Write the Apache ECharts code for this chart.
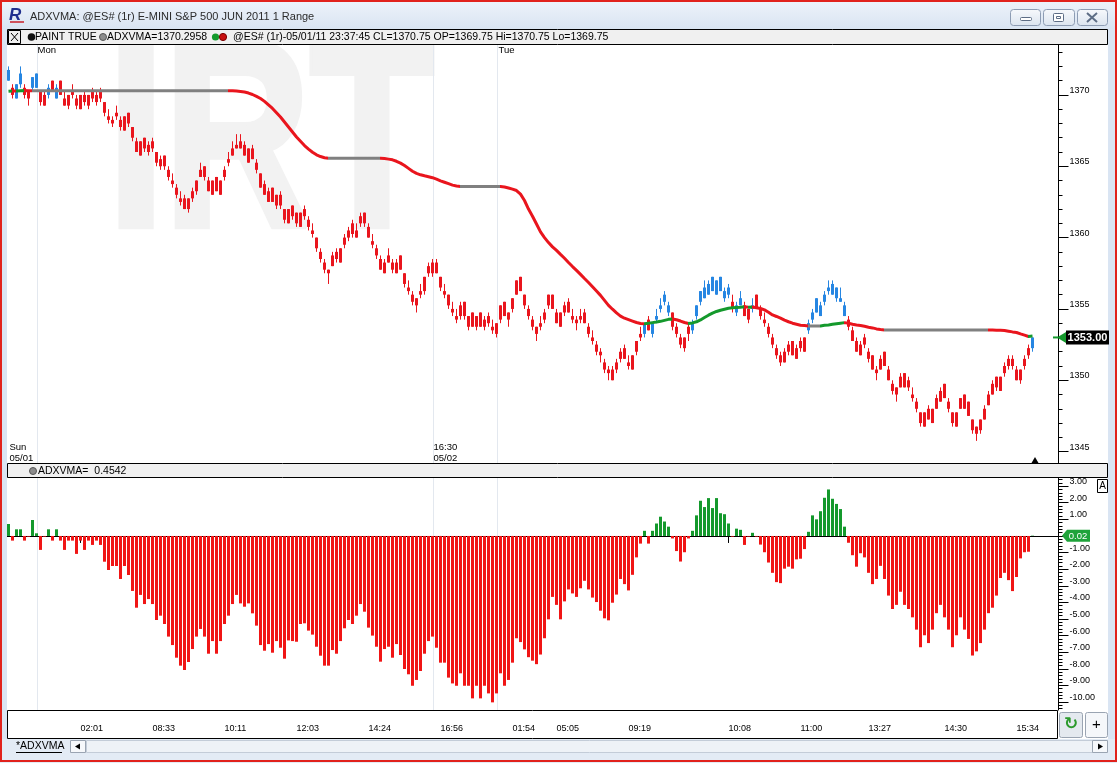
<!DOCTYPE html>
<html><head><meta charset="utf-8">
<script src="https://cdn.jsdelivr.net/npm/echarts@6/dist/echarts.min.js"></script>
<style>html,body{margin:0;padding:0;background:#fff}#c{width:1117px;height:763px}</style>
</head><body><div id="c"></div>
<script>
// ---------------- DATA ----------------
// Range bars: [open, close, low, high]
const ohlc = [
[1371.0,1371.75,1371.0,1372.0],[1370.5,1370.0,1369.75,1370.75],[1369.75,1370.75,1369.75,1370.75],[1370.75,1371.5,1370.5,1372.0],
[1370.5,1370.0,1369.75,1370.75],[1370.25,1369.75,1369.25,1370.25],[1370.5,1371.25,1370.25,1371.25],[1370.5,1371.5,1370.5,1371.5],
[1370.25,1369.5,1369.25,1370.25],[1370.0,1369.25,1369.25,1370.25],[1370.0,1370.5,1369.75,1370.75],[1371.0,1370.25,1370.25,1371.0],
[1369.75,1370.5,1369.75,1370.75],[1371.0,1370.0,1370.0,1371.0],[1369.75,1369.25,1369.25,1370.25],[1370.0,1369.25,1369.0,1370.0],
[1370.25,1370.0,1369.75,1370.75],[1369.75,1369.25,1369.0,1370.0],[1370.0,1369.0,1369.0,1370.0],[1370.0,1369.5,1369.25,1370.25],
[1370.0,1369.25,1369.0,1370.0],[1370.25,1369.75,1369.5,1370.5],[1370.0,1369.5,1369.25,1370.25],[1370.25,1369.75,1369.5,1370.5],
[1369.5,1368.75,1368.5,1369.5],[1368.5,1368.25,1368.0,1369.0],[1368.25,1368.0,1367.75,1368.5],[1368.75,1368.5,1368.25,1369.25],
[1368.25,1367.75,1367.5,1368.5],[1368.5,1367.5,1367.5,1368.5],[1368.75,1368.0,1367.75,1368.75],[1367.75,1367.0,1366.75,1367.75],
[1366.75,1366.0,1366.0,1367.0],[1366.75,1365.75,1365.75,1366.75],[1367.0,1366.25,1366.0,1367.0],[1366.5,1366.0,1365.75,1366.75],
[1366.75,1366.25,1366.0,1367.0],[1366.0,1365.25,1365.0,1366.0],[1365.5,1365.0,1364.75,1365.75],[1365.75,1365.0,1364.75,1365.75],
[1364.75,1364.25,1364.0,1365.0],[1364.0,1363.75,1363.5,1364.5],[1363.5,1363.0,1362.75,1363.75],[1362.75,1362.5,1362.25,1363.25],
[1362.75,1362.0,1362.0,1363.0],[1362.75,1362.0,1361.75,1362.75],[1363.25,1362.75,1362.5,1363.5],[1363.25,1364.0,1363.0,1364.0],
[1364.25,1364.75,1364.25,1365.25],[1364.25,1365.0,1364.0,1365.0],[1364.0,1363.25,1363.25,1364.25],[1364.0,1363.0,1363.0,1364.0],
[1363.25,1364.25,1363.25,1364.25],[1364.0,1363.0,1363.0,1364.0],[1364.25,1364.75,1364.0,1365.0],[1365.25,1365.5,1365.0,1366.0],
[1365.75,1366.25,1365.75,1366.75],[1366.25,1366.5,1366.25,1367.25],[1366.25,1366.75,1366.25,1367.25],[1366.5,1365.75,1365.75,1366.75],
[1366.25,1365.25,1365.25,1366.25],[1365.5,1366.25,1365.5,1366.5],[1365.25,1364.75,1364.5,1365.5],[1364.5,1363.5,1363.5,1364.5],
[1363.75,1363.0,1363.0,1364.0],[1363.25,1362.5,1362.5,1363.5],[1362.5,1363.5,1362.5,1363.5],[1363.0,1362.25,1362.0,1363.0],
[1362.25,1363.0,1362.0,1363.25],[1362.0,1361.25,1361.0,1362.0],[1362.0,1361.0,1361.0,1362.0],[1361.5,1362.25,1361.25,1362.25],
[1361.75,1361.0,1360.75,1361.75],[1360.75,1361.75,1360.75,1361.75],[1362.0,1361.5,1361.25,1362.25],[1361.25,1360.75,1360.5,1361.5],
[1360.5,1360.25,1360.0,1361.0],[1360.0,1359.25,1359.0,1360.0],[1359.0,1358.5,1358.25,1359.25],[1358.25,1357.75,1357.5,1358.5],
[1357.75,1357.5,1356.75,1357.75],[1358.0,1358.75,1358.0,1359.0],[1358.5,1359.0,1358.25,1359.25],[1358.25,1359.25,1358.25,1359.25],
[1359.5,1360.0,1359.25,1360.25],[1360.0,1360.5,1359.75,1360.75],[1360.25,1361.0,1360.0,1361.25],[1360.5,1360.0,1360.0,1361.0],
[1361.0,1361.5,1360.75,1361.75],[1361.0,1361.75,1360.75,1361.75],[1360.75,1360.0,1360.0,1361.0],[1359.75,1359.5,1359.25,1360.25],
[1359.25,1358.75,1358.5,1359.5],[1358.5,1357.75,1357.75,1358.75],[1358.25,1357.5,1357.5,1358.5],[1358.75,1358.25,1358.25,1359.25],
[1358.25,1357.75,1357.5,1358.5],[1357.5,1358.25,1357.5,1358.5],[1357.75,1358.75,1357.75,1358.75],[1357.5,1356.75,1356.5,1357.5],
[1356.5,1356.25,1356.0,1357.0],[1356.0,1355.5,1355.25,1356.25],[1355.75,1355.25,1354.75,1355.75],[1356.0,1356.25,1355.75,1356.75],
[1356.25,1357.25,1356.0,1357.25],[1357.5,1358.0,1357.25,1358.25],[1357.5,1358.25,1357.25,1358.5],[1357.5,1358.25,1357.5,1358.5],
[1357.25,1356.5,1356.25,1357.25],[1356.25,1356.0,1355.75,1356.75],[1356.0,1355.25,1355.0,1356.0],[1355.0,1354.75,1354.5,1355.5],
[1354.5,1354.25,1354.0,1355.0],[1354.5,1355.25,1354.25,1355.5],[1354.5,1355.5,1354.25,1355.5],[1354.5,1353.75,1353.5,1354.5],
[1353.75,1354.75,1353.75,1354.75],[1354.5,1353.75,1353.5,1354.5],[1353.75,1354.75,1353.75,1354.75],[1354.25,1353.75,1353.5,1354.5],
[1354.0,1354.5,1353.75,1354.75],[1353.75,1353.5,1353.25,1354.25],[1354.0,1353.25,1353.0,1354.0],[1354.25,1355.25,1354.0,1355.25],
[1354.5,1355.5,1354.5,1355.5],[1354.75,1354.25,1353.75,1354.75],[1355.0,1355.75,1354.75,1355.75],[1356.0,1357.0,1356.0,1357.0],
[1356.25,1357.25,1356.25,1357.25],[1356.0,1355.25,1355.0,1356.0],[1355.0,1354.5,1354.25,1355.25],[1354.25,1353.75,1353.5,1354.5],
[1353.75,1353.25,1352.75,1353.75],[1353.75,1354.0,1353.5,1354.5],[1354.25,1354.75,1354.0,1355.0],[1355.25,1356.0,1355.0,1356.0],
[1355.0,1356.0,1355.0,1356.0],[1354.75,1354.0,1354.0,1355.0],[1354.75,1353.75,1353.75,1354.75],[1354.75,1355.25,1354.5,1355.5],
[1354.75,1355.5,1354.75,1355.75],[1354.5,1354.25,1354.0,1355.0],[1354.25,1354.0,1353.5,1354.5],[1354.25,1354.5,1354.0,1355.0],
[1354.75,1354.0,1354.0,1355.0],[1353.75,1353.25,1353.0,1354.0],[1353.0,1352.75,1352.5,1353.5],[1352.5,1352.0,1351.75,1352.75],
[1352.0,1351.75,1351.25,1352.25],[1351.25,1350.75,1350.5,1351.5],[1350.75,1350.5,1350.0,1351.0],[1350.75,1350.0,1350.0,1351.0],
[1350.75,1351.25,1350.5,1351.5],[1351.5,1352.0,1351.25,1352.25],[1351.5,1352.25,1351.5,1352.5],[1351.25,1351.0,1350.75,1351.75],
[1350.75,1351.75,1350.75,1351.75],[1352.0,1352.75,1351.75,1352.75],[1353.0,1353.25,1352.75,1353.75],[1353.25,1354.0,1353.0,1354.0],
[1354.25,1353.5,1353.5,1354.5],[1353.25,1354.0,1353.0,1354.0],[1354.25,1354.5,1354.0,1355.0],[1355.0,1355.25,1354.75,1355.75],
[1355.5,1356.0,1355.25,1356.25],[1355.25,1354.75,1354.5,1355.5],[1354.75,1353.75,1353.5,1354.75],[1353.75,1353.25,1353.0,1354.0],
[1353.0,1352.5,1352.25,1353.25],[1353.0,1352.25,1352.0,1353.0],[1353.25,1353.75,1352.75,1354.0],[1353.5,1354.0,1353.25,1354.25],
[1354.5,1355.25,1354.25,1355.25],[1355.5,1356.25,1355.25,1356.25],[1355.75,1356.5,1355.75,1357.0],[1356.0,1356.75,1356.0,1357.0],
[1356.25,1357.25,1356.25,1357.25],[1357.0,1356.0,1356.0,1357.0],[1356.25,1357.25,1356.25,1357.25],[1356.25,1355.75,1355.5,1356.5],
[1356.0,1356.5,1355.75,1356.75],[1355.5,1355.0,1354.75,1356.0],[1355.25,1354.75,1354.5,1355.5],[1355.25,1355.75,1355.25,1356.25],
[1355.25,1354.5,1354.5,1355.5],[1355.0,1354.25,1354.0,1355.0],[1355.0,1355.25,1354.75,1355.75],[1356.0,1355.0,1355.0,1356.0],
[1355.0,1354.5,1354.25,1355.25],[1354.25,1354.0,1353.75,1354.75],[1353.75,1353.25,1353.0,1354.0],[1353.0,1352.5,1352.25,1353.25],
[1352.25,1351.75,1351.5,1352.5],[1351.75,1351.25,1351.0,1352.0],[1351.25,1352.0,1351.25,1352.25],[1352.5,1352.0,1351.75,1352.75],
[1351.75,1352.75,1351.75,1352.75],[1352.25,1351.5,1351.5,1352.5],[1352.25,1352.75,1352.0,1353.0],[1352.0,1353.0,1352.0,1353.0],
[1353.5,1354.0,1353.25,1354.25],[1354.25,1354.75,1354.0,1355.0],[1354.75,1355.75,1354.75,1355.75],[1355.25,1354.5,1354.5,1355.5],
[1355.5,1356.0,1355.25,1356.25],[1356.25,1356.5,1356.0,1357.0],[1356.0,1356.75,1356.0,1357.0],[1356.5,1355.75,1355.5,1356.5],
[1355.75,1355.5,1355.5,1356.5],[1355.25,1354.5,1354.5,1355.5],[1354.25,1353.75,1353.5,1354.5],[1353.5,1352.75,1352.75,1353.75],
[1352.75,1352.0,1352.0,1353.0],[1351.75,1352.5,1351.75,1352.75],[1353.0,1352.5,1352.25,1353.25],[1352.0,1351.5,1351.25,1352.25],
[1351.75,1350.75,1350.75,1351.75],[1350.75,1350.5,1350.0,1351.0],[1350.75,1351.5,1350.75,1351.75],[1351.0,1352.0,1351.0,1352.0],
[1350.75,1350.0,1350.0,1351.0],[1349.75,1349.25,1349.0,1350.0],[1349.5,1349.0,1348.5,1349.5],[1349.5,1350.25,1349.5,1350.5],
[1349.5,1350.5,1349.5,1350.5],[1350.0,1349.5,1349.25,1350.25],[1349.0,1348.75,1348.5,1349.5],[1348.5,1348.0,1347.75,1348.75],
[1347.75,1347.0,1346.75,1347.75],[1347.75,1346.75,1346.75,1347.75],[1347.25,1348.0,1347.25,1348.25],[1348.0,1347.0,1347.0,1348.0],
[1348.0,1348.75,1348.0,1349.0],[1348.5,1349.25,1348.5,1349.5],[1348.75,1349.75,1348.75,1349.75],[1348.5,1348.0,1347.75,1348.75],
[1347.75,1347.0,1346.75,1347.75],[1347.75,1346.75,1346.75,1347.75],[1348.0,1348.75,1348.0,1348.75],[1348.0,1349.0,1348.0,1349.0],
[1348.5,1347.5,1347.5,1348.5],[1347.25,1346.5,1346.25,1347.25],[1346.75,1346.25,1345.75,1346.75],[1346.5,1347.25,1346.25,1347.25],
[1347.25,1348.0,1347.25,1348.25],[1348.25,1349.0,1348.25,1349.25],[1349.0,1349.75,1349.0,1350.0],[1350.25,1349.5,1349.25,1350.25],
[1349.25,1350.25,1349.25,1350.25],[1350.5,1351.0,1350.25,1351.25],[1351.0,1351.5,1350.75,1351.75],[1351.5,1351.0,1350.75,1351.75],
[1350.75,1350.0,1350.0,1351.0],[1350.0,1350.75,1349.75,1350.75],[1351.0,1351.5,1350.75,1351.75],[1351.75,1352.25,1351.5,1352.5],
[1352.25,1353.0,1352.0,1353.0]
];

// ADXVMA moving-average values, one per bar
const adxvma = [
1370.26,1370.28,1370.27,1370.29,1370.31,1370.30,
1370.2958,1370.2958,1370.2958,1370.2958,1370.2958,1370.2958,1370.2958,1370.2958,1370.2958,1370.2958,
1370.2958,1370.2958,1370.2958,1370.2958,1370.2958,1370.2958,1370.2958,1370.2958,1370.2958,1370.2958,
1370.2958,1370.2958,1370.2958,1370.2958,1370.2958,1370.2958,1370.2958,1370.2958,1370.2958,1370.2958,
1370.2958,1370.2958,1370.2958,1370.2958,1370.2958,1370.2958,1370.2958,1370.2958,1370.2958,1370.2958,
1370.2958,1370.2958,1370.2958,1370.2958,1370.2958,1370.2958,1370.2958,1370.2958,1370.2958,1370.2958,
1370.29,1370.27,1370.24,1370.2,1370.13,1370.03,1369.9,1369.75,1369.55,1369.3,1369.05,1368.75,1368.45,1368.1,
1367.75,1367.4,1367.05,1366.75,1366.45,1366.2,1365.98,1365.8,1365.68,1365.6,
1365.56,1365.56,1365.56,1365.56,1365.56,1365.56,1365.56,1365.56,1365.56,1365.56,1365.56,1365.56,1365.56,1365.56,
1365.54,1365.5,1365.45,1365.35,1365.22,1365.05,1364.85,1364.65,1364.5,1364.4,1364.33,1364.27,1364.2,1364.1,
1363.98,1363.88,1363.78,1363.68,1363.62,
1363.58,1363.58,1363.58,1363.58,1363.58,1363.58,1363.58,1363.58,1363.58,1363.58,1363.58,
1363.55,1363.48,1363.4,1363.3,1363.05,1362.6,1362.0,1361.5,1360.95,1360.4,1360.0,1359.65,1359.35,1359.1,
1358.82,1358.55,1358.25,1357.97,1357.7,1357.42,1357.13,1356.85,1356.55,1356.25,1355.95,1355.6,1355.25,1354.98,
1354.72,1354.5,1354.35,1354.25,1354.15,1354.05,1353.98,1353.96,
1354.0,1354.04,1354.08,1354.13,1354.2,1354.27,1354.3,1354.24,1354.15,1354.05,1353.98,
1354.02,1354.1,1354.23,1354.4,1354.56,1354.7,1354.82,1354.91,1354.98,1355.05,1355.08,1355.1,
1355.12,1355.15,1355.12,1355.13,1355.08,1355.03,1354.93,1354.77,1354.58,1354.47,1354.35,1354.21,1354.1,1354.0,
1353.93,1353.86,1353.84,1353.81,1353.81,1353.81,1353.81,1353.85,1353.88,1353.92,1353.96,1354.0,1354.04,
1354.0,1353.93,1353.88,1353.84,1353.79,1353.72,1353.67,1353.6,1353.56,
1353.53,1353.53,1353.53,1353.53,1353.53,1353.53,1353.53,1353.53,1353.53,1353.53,1353.53,1353.53,1353.53,1353.53,
1353.53,1353.53,1353.53,1353.53,1353.53,1353.53,1353.53,1353.53,1353.53,1353.53,1353.53,1353.53,1353.53,
1353.52,1353.51,1353.5,1353.49,1353.44,1353.39,1353.35,1353.25,1353.16,1353.07,1353.1
];

// ADXVMA oscillator histogram, one per bar
const histogram = [
0.72,-0.28,0.4,0.4,-0.28,-0.04,0.96,0.16,-0.84,-0.04,
0.4,-0.28,0.4,-0.28,-0.84,-0.28,-0.28,-1.08,-0.28,-0.84,
-0.28,-0.54,-0.28,-0.54,-1.55,-2.05,-1.81,-1.81,-2.59,-1.81,
-2.35,-3.31,-4.32,-3.55,-4.1,-3.8,-4.1,-5.06,-4.8,-5.3,
-6.06,-6.57,-7.33,-7.81,-8.07,-7.59,-6.81,-6.06,-5.6,-6.06,
-7.09,-6.33,-7.09,-6.33,-5.3,-4.8,-4.1,-3.55,-4.06,-4.26,
-4.06,-4.66,-5.4,-6.57,-6.91,-6.51,-7.03,-6.33,-6.73,-7.39,
-6.29,-6.33,-6.37,-5.3,-5.26,-5.7,-5.94,-6.67,-7.21,-7.81,
-7.81,-6.87,-7.09,-6.33,-5.56,-5.06,-5.3,-4.8,-4.1,-4.56,
-5.52,-6.0,-6.67,-7.57,-6.81,-6.67,-7.33,-6.51,-7.17,-8.01,
-8.33,-9.02,-8.67,-8.13,-7.09,-6.33,-6.06,-6.73,-7.63,-7.63,
-8.53,-8.88,-9.02,-8.27,-9.02,-9.02,-9.78,-9.02,-9.78,-9.02,
-9.48,-10.02,-9.48,-8.27,-9.02,-8.67,-7.63,-6.16,
-6.39,-6.83,-7.3,-7.51,-7.72,-7.14,-6.16,-5.02,-3.67,-4.15,
-5.02,-3.94,-3.22,-3.46,-3.67,-3.15,-2.7,-3.22,-3.71,-3.98,
-4.5,-4.96,-5.08,-4.02,-3.53,-2.59,-2.9,-3.28,-2.34,-1.29,
-0.46,0.31,-0.46,0.31,0.75,1.16,0.87,0.56,-0.15,-0.91,
-1.54,-0.98,-0.15,0.31,1.24,2.12,1.74,2.28,1.68,2.28,
1.37,1.31,0.75,-0.04,0.44,0.37,-0.54,-0.04,0.19,-0.04,
-0.52,-0.98,-1.6,-2.22,-2.78,-2.84,-1.97,-1.85,-1.97,-1.41,
-1.37,-0.79,0.25,1.24,1.0,1.49,2.3,2.8,2.24,1.93,
1.62,0.56,-0.41,-1.16,-1.85,-1.04,-1.29,-2.22,-2.9,-2.59,
-1.8,-2.59,-3.59,-4.4,-4.15,-3.36,-4.15,-4.4,-4.9,-5.64,
-6.7,-5.98,-6.45,-5.64,-4.65,-4.15,-4.9,-5.64,-6.7,-5.98,
-4.9,-5.64,-6.2,-7.2,-6.95,-6.45,-5.64,-4.65,-4.32,-3.59,
-2.53,-2.22,-2.66,-3.32,-2.47,-1.35,-0.98,-0.95,0.02
];

// time axis: bar index where each time label sits, and the label
const timeTickIndex = [18,36,54,72,90,108,126,137,155,180,198,215,234,252];
const timeTickLabels = ['02:01','08:33','10:11','12:03','14:24','16:56','01:54','05:05','09:19','10:08','11:00','13:27','14:30','15:34'];
// session separators (bar index)
const sessionIndex = [7, 106, 122];
const priceTicks = [1345,1350,1355,1360,1365,1370];
const oscTicks = [3,2,1,0,-1,-2,-3,-4,-5,-6,-7,-8,-9,-10];
const oscLabels = [3,2,1,-1,-2,-3,-4,-5,-6,-7,-8,-9,-10];
const padSlots = 6;

// ---------------- STYLE ----------------
const RED = '#e9151d', BLUE = '#2686e2', GREEN = '#14992c', GRAY = '#808080';
const HRED = '#f01515';
const UI = '"Liberation Sans", Arial, sans-serif';

const N = ohlc.length;
const cats = [];
for (let i = 0; i < N + padSlots; i++) cats.push(String(i));
const tickSet = new Set(timeTickIndex);
const labelMap = {};
timeTickIndex.forEach((ix, k) => labelMap[ix] = timeTickLabels[k]);

const candleRows = ohlc.map((d, i) => [i, d[0], d[1], d[2], d[3]]);
const histData = histogram.map(v => ({ value: v, itemStyle: { color: v > 0 ? GREEN : HRED } }));

// ADXVMA colour by slope: rising green, falling red, flat gray
const segColor = [];
for (let i = 1; i < N; i++) {
  const d = adxvma[i] - adxvma[i - 1];
  segColor.push(Math.abs(d) < 1e-9 ? GRAY : (d > 0 ? GREEN : RED));
}
const pieces = [];
let s = 0;
for (let k = 1; k <= segColor.length; k++) {
  if (k === segColor.length || segColor[k] !== segColor[s]) {
    if (k === segColor.length) pieces.push({ gte: s, lte: N - 1 + padSlots, color: segColor[s] });
    else pieces.push({ gte: s, lt: k, color: segColor[s] });
    s = k;
  }
}

const minorPrice = [];
for (let v = 1345; v <= 1373; v++) minorPrice.push(v);
const minorOsc = [];
for (let k = -52; k <= 17; k++) minorOsc.push(+(k * 0.2).toFixed(1));

// candle drawn through the axis scales: wick + 3px body, painted by oscillator sign
function renderCandle(params, api) {
  const i = api.value(0);
  const pO = api.coord([i, api.value(1)]);
  const pC = api.coord([i, api.value(2)]);
  const pL = api.coord([i, api.value(3)]);
  const pH = api.coord([i, api.value(4)]);
  const col = histogram[params.dataIndex] > 0 ? BLUE : RED;
  const x = pO[0];
  const top = Math.min(pO[1], pC[1]);
  const h = Math.max(Math.abs(pO[1] - pC[1]), 1.5);
  const xr = Math.floor(x) + 0.5;
  return {
    type: 'group',
    children: [
      { type: 'line', shape: { x1: xr, y1: pH[1], x2: xr, y2: pL[1] }, style: { stroke: col, lineWidth: 1 } },
      { type: 'rect', shape: { x: Math.floor(x) - 1, y: top, width: 3, height: h }, style: { fill: col } }
    ]
  };
}

const GL = 6.5, GW = 4 * (N + padSlots);   // 4 px per bar slot
const chart = echarts.init(document.getElementById('c'), null, { width: 1117, height: 763 });
const option = {
  animation: false,
  backgroundColor: '#ffffff',
  textStyle: { fontFamily: UI },
  grid: [
    { left: GL, top: 45, width: GW, height: 418 },
    { left: GL, top: 478, width: GW, height: 232 }
  ],
  xAxis: [
    { type: 'category', gridIndex: 0, data: cats, boundaryGap: true,
      axisLine: { show: false }, axisTick: { show: false }, axisLabel: { show: false }, splitLine: { show: false } },
    { type: 'category', gridIndex: 1, data: cats, boundaryGap: true,
      axisLine: { show: true, lineStyle: { color: '#000', width: 1 } },
      axisTick: { show: true, alignWithLabel: true, length: 7, interval: (i) => tickSet.has(i), lineStyle: { color: '#000' } },
      axisLabel: { show: true, interval: (i) => tickSet.has(i), formatter: (v, i) => labelMap[i] || '',
        align: 'left', fontSize: 9, color: '#000', margin: 14, fontFamily: UI },
      splitLine: { show: false } }
  ],
  yAxis: [
    { type: 'value', gridIndex: 0, position: 'right', min: 1344.2, max: 1373.5, scale: true,
      axisLine: { show: true, lineStyle: { color: '#000' } },
      axisTick: { show: true, length: 10, customValues: priceTicks, lineStyle: { color: '#000' } },
      axisLabel: { show: true, customValues: priceTicks, fontSize: 9, color: '#000', margin: 11,
        verticalAlign: 'bottom', fontFamily: UI, formatter: v => String(v) },
      splitLine: { show: false } },
    { type: 'value', gridIndex: 0, position: 'right', min: 1344.2, max: 1373.5, scale: true,
      axisLine: { show: false },
      axisTick: { show: true, length: 4, customValues: minorPrice, lineStyle: { color: '#000' } },
      axisLabel: { show: false }, splitLine: { show: false } },
    { type: 'value', gridIndex: 1, position: 'right', min: -10.48, max: 3.49,
      axisLine: { show: true, lineStyle: { color: '#000' } },
      axisTick: { show: true, length: 10, customValues: oscTicks, lineStyle: { color: '#000' } },
      axisLabel: { show: true, customValues: oscLabels, fontSize: 9, color: '#000', margin: 11,
        verticalAlign: 'bottom', fontFamily: UI, formatter: v => v.toFixed(2) },
      splitLine: { show: false } },
    { type: 'value', gridIndex: 1, position: 'right', min: -10.48, max: 3.49,
      axisLine: { show: false },
      axisTick: { show: true, length: 4, customValues: minorOsc, lineStyle: { color: '#000' } },
      axisLabel: { show: false }, splitLine: { show: false } }
  ],
  visualMap: { show: false, type: 'piecewise', seriesIndex: 1, dimension: 0, pieces: pieces },
  series: [
    { type: 'custom', name: 'ES', xAxisIndex: 0, yAxisIndex: 0, data: candleRows,
      renderItem: renderCandle, encode: { x: 0, y: [1, 2, 3, 4] }, z: 3, clip: true },
    { type: 'line', name: 'ADXVMA', xAxisIndex: 0, yAxisIndex: 0, data: adxvma,
      showSymbol: false, symbol: 'none', z: 5, lineStyle: { width: 3 } },
    { type: 'bar', name: 'ADXVMA osc', xAxisIndex: 1, yAxisIndex: 2, data: histData,
      barWidth: 3, z: 3 }
  ]
};
chart.setOption(option);

// ---------------- window chrome & annotations ----------------
const px = i => chart.convertToPixel({ xAxisIndex: 0 }, i);
const py = v => chart.convertToPixel({ yAxisIndex: 0 }, v);
const po = v => chart.convertToPixel({ yAxisIndex: 2 }, v);

function T(x, y, text, o = {}) {
  return { type: 'text', x, y, z: o.z || 40, silent: true,
    style: { text, fill: o.fill || '#000', font: o.font || `${o.size || 11}px ${UI}`,
      textAlign: o.align || 'left', textVerticalAlign: o.va || 'middle' } };
}
function R(x, y, w, h, style, z = 30, r = 0) {
  return { type: 'rect', silent: true, z, shape: { x, y, width: w, height: h, r }, style };
}
function L(x1, y1, x2, y2, stroke = '#000', w = 1, z = 40) {
  return { type: 'line', silent: true, z, shape: { x1, y1, x2, y2 }, style: { stroke, lineWidth: w } };
}
const frameFill = '#dae5f3';
const btnGrad = { type: 'linear', x: 0, y: 0, x2: 0, y2: 1, colorStops: [{ offset: 0, color: '#f7f9fc' }, { offset: 1, color: '#dbe4ef' }] };
const g = [];
// watermark
g.push({ type: 'text', x: 108, y: 152, z: 0, silent: true, scaleX: 0.76,
  style: { text: 'IRT', fill: '#f2f2f2', stroke: '#f2f2f2', lineWidth: 8, font: `bold 266px ${UI}`, textAlign: 'left', textVerticalAlign: 'middle' } });
// session separators (behind the marks)
sessionIndex.forEach(ix => {
  const x = Math.round(px(ix)) + 0.5;
  g.push(L(x, 45, x, 463, '#e3e8ef', 1, 0));
  g.push(L(x, 478, x, 710, '#e3e8ef', 1, 0));
});
// frame
g.push(R(0, 0, 1117, 29, { fill: { type: 'linear', x: 0, y: 0, x2: 0, y2: 1, colorStops: [{ offset: 0, color: '#eef3fa' }, { offset: 1, color: '#d9e4f2' }] } }, 20));
g.push(R(0, 29, 7, 734, { fill: frameFill }, 20));
g.push(R(1108, 29, 9, 734, { fill: frameFill }, 20));
g.push(R(0, 739, 1117, 24, { fill: '#e3ebf5' }, 20));
g.push(R(1, 1, 1115, 760, { fill: 'none', stroke: '#e1221c', lineWidth: 2 }, 60));
// logo + title
g.push(T(9, 15, 'R', { font: `bold italic 17px ${UI}`, fill: '#1f2f8e' }));
g.push(L(10, 22, 24, 22, '#c8202a', 1.5));
g.push(T(30, 17, 'ADXVMA: @ES# (1r) E-MINI S&P 500 JUN 2011 1 Range', { size: 11, fill: '#2b2b2b' }));
// window buttons
[[1010, 30], [1043, 31], [1077, 30]].forEach(([x, w]) => g.push(R(x + 0.5, 9.5, w, 16, { fill: btnGrad, stroke: '#8d9cb3', lineWidth: 1 }, 30, 3)));
g.push(R(1020.5, 17.5, 11, 3, { fill: '#fff', stroke: '#5d6d85', lineWidth: 1 }, 35, 1));
g.push(R(1053.5, 13.5, 10, 8, { fill: '#fff', stroke: '#5d6d85', lineWidth: 1 }, 35, 1));
g.push(R(1056.5, 16.5, 4, 2, { fill: 'none', stroke: '#5d6d85', lineWidth: 1 }, 36));
g.push(L(1087, 13, 1097, 22, '#5d6d85', 2)); g.push(L(1097, 13, 1087, 22, '#5d6d85', 2));
// info bar
g.push(R(7.5, 29.5, 1100, 15, { fill: '#f0f0f0', stroke: '#000', lineWidth: 1 }, 30));
g.push(R(8.5, 30.5, 12, 13, { fill: 'none', stroke: '#000', lineWidth: 1 }, 35));
g.push(L(11, 33, 18, 41, '#000', 1)); g.push(L(18, 33, 11, 41, '#000', 1));
g.push({ type: 'circle', z: 40, silent: true, shape: { cx: 31.5, cy: 37, r: 3.8 }, style: { fill: '#111' } });
g.push(T(35, 37.5, 'PAINT TRUE', { size: 10.5 }));
g.push({ type: 'circle', z: 40, silent: true, shape: { cx: 103, cy: 37, r: 3.5 }, style: { fill: '#8c8c8c', stroke: '#555' } });
g.push(T(107, 37.5, 'ADXVMA=1370.2958', { size: 10.5 }));
g.push({ type: 'circle', z: 40, silent: true, shape: { cx: 215.5, cy: 37, r: 3.6 }, style: { fill: GREEN } });
g.push({ type: 'circle', z: 40, silent: true, shape: { cx: 223, cy: 37, r: 3.6 }, style: { fill: '#c81010', stroke: '#700' } });
g.push(T(233, 37.5, '@ES# (1r)-05/01/11 23:37:45 CL=1370.75 OP=1369.75 Hi=1370.75 Lo=1369.75', { size: 10.5 }));
// pane separator
g.push(R(7.5, 463.5, 1100, 14, { fill: '#f0f0f0', stroke: '#000', lineWidth: 1 }, 30));
g.push({ type: 'circle', z: 40, silent: true, shape: { cx: 33, cy: 471, r: 3.5 }, style: { fill: '#8c8c8c', stroke: '#555' } });
g.push(T(38, 471, 'ADXVMA=  0.4542', { size: 10.5 }));
g.push(R(1097.5, 479.5, 10, 13, { fill: '#fff', stroke: '#000', lineWidth: 1 }, 35));
g.push(T(1102.5, 486.5, 'A', { align: 'center', size: 10 }));
// bottom axis box & buttons
g.push(R(7.5, 710.5, 1050, 28, { fill: 'none', stroke: '#000', lineWidth: 1 }, 35));
g.push(R(1059.5, 712.5, 23, 25, { fill: '#e4e9ef', stroke: '#9aa4b2', lineWidth: 1 }, 35, 2));
g.push(T(1071, 725, '\u21BB', { align: 'center', font: `bold 17px "DejaVu Sans"`, fill: '#2c9a2c' }));
g.push(R(1085.5, 712.5, 22, 25, { fill: '#f5f7fa', stroke: '#9aa4b2', lineWidth: 1 }, 35, 2));
g.push(T(1096.5, 725, '+', { align: 'center', size: 15 }));
// bottom tab strip
g.push(T(16, 746, '*ADXVMA', { size: 10.5 }));
g.push(L(16, 752.5, 62, 752.5, '#000', 1));
g.push(R(70.5, 740.5, 15, 12, { fill: '#f6f8fb', stroke: '#9aa4b2', lineWidth: 1 }, 35));
g.push({ type: 'polygon', z: 40, silent: true, shape: { points: [[75, 746.5], [80, 743.5], [80, 749.5]] }, style: { fill: '#000' } });
g.push(R(86.5, 740.5, 1006, 12, { fill: '#eef2f7', stroke: '#c3ccd8', lineWidth: 1 }, 34));
g.push(R(1092.5, 740.5, 15, 12, { fill: '#f6f8fb', stroke: '#9aa4b2', lineWidth: 1 }, 35));
g.push({ type: 'polygon', z: 40, silent: true, shape: { points: [[1103, 746.5], [1098, 743.5], [1098, 749.5]] }, style: { fill: '#000' } });

// session captions
g.push(T(px(sessionIndex[0]) + 1, 50, 'Mon', { size: 9.5 }));
g.push(T(px(sessionIndex[2]) + 2, 50, 'Tue', { size: 9.5 }));
g.push(T(px(0) + 1, 447, 'Sun', { size: 9.5 }));
g.push(T(px(0) + 1, 458, '05/01', { size: 9.5 }));
g.push(T(px(sessionIndex[1]) + 1, 447, '16:30', { size: 9.5 }));
g.push(T(px(sessionIndex[1]) + 1, 458, '05/02', { size: 9.5 }));

// last price marker
const lastClose = ohlc[N - 1][1];
const yl = py(lastClose);
g.push(L(1053, yl, 1058, yl, GREEN, 2, 45));
g.push({ type: 'polygon', z: 45, silent: true, shape: { points: [[1057, yl], [1066, yl - 5.5], [1066, yl + 5.5]] }, style: { fill: GREEN } });
g.push(R(1066, yl - 7, 43, 14, { fill: '#000' }, 45));
g.push(T(1087.5, yl + 0.5, lastClose.toFixed(2), { align: 'center', font: `bold 11px ${UI}`, fill: '#fff', z: 46 }));
// last-bar triangle
const xl = px(N - 1);
g.push({ type: 'polygon', z: 45, silent: true, shape: { points: [[xl + 2.5, 457], [xl - 1, 463], [xl + 6, 463]] }, style: { fill: '#000' } });
// oscillator marker
const lastOsc = histogram[N - 1];
const yo = po(lastOsc);
g.push({ type: 'polygon', z: 45, silent: true, shape: { points: [[1062, yo], [1067, yo - 6], [1090, yo - 6], [1090, yo + 6], [1067, yo + 6]] }, style: { fill: '#1fa33a' } });
g.push(T(1078, yo + 0.5, lastOsc.toFixed(2), { align: 'center', size: 9.5, fill: '#fff', z: 46 }));

chart.setOption({ graphic: { elements: g } });
</script>
</body></html>
